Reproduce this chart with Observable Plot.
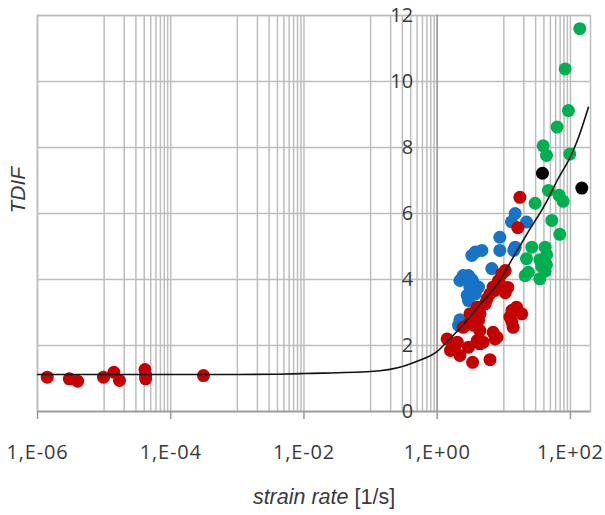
<!DOCTYPE html>
<html>
<head>
<meta charset="utf-8">
<script src="https://cdn.jsdelivr.net/npm/d3@7"></script>
<script src="https://cdn.jsdelivr.net/npm/@observablehq/plot@0.6"></script>
<style>
  html, body { margin: 0; padding: 0; background: #fff; }
  #chart svg { display: block; }
</style>
</head>
<body>
<div id="chart"></div>
<script>
// Strain-rate points [strain rate (1/s), TDIF]
const quasiStatic = [
  [1.4e-6, 1.04], [3.0e-6, 0.99], [4.0e-6, 0.92], [9.8e-6, 1.04], [1.4e-5, 1.19],
  [1.7e-5, 0.94], [4.1e-5, 1.27], [4.2e-5, 1.10], [4.2e-5, 0.99], [3.1e-4, 1.09]
];
const redPoints = [
  [1.41, 2.2], [1.58, 1.85], [2.19, 1.7], [1.86, 2.0], [2.0, 2.1], [2.95, 1.95], [3.4, 1.49], [6.2, 1.57],
  [2.45, 2.55], [2.95, 2.65], [3.1, 2.96], [3.55, 2.61], [4.17, 2.76], [4.37, 2.45], [3.98, 2.15],
  [4.37, 2.05], [4.9, 2.1], [6.9, 2.4], [7.4, 2.2], [7.9, 2.25],
  [3.98, 3.16], [4.4, 2.96], [5.25, 3.26], [5.6, 3.41], [6.17, 3.56], [6.9, 3.77], [7.4, 3.67],
  [8.3, 3.97], [8.7, 3.87], [9.3, 4.17], [10.5, 4.27], [10.5, 3.6],
  [11.5, 3.76], [13.2, 3.06], [15.5, 3.16], [18.6, 2.96], [13.2, 2.71], [13.8, 2.55], [12.3, 2.86],
  [17.4, 6.49], [16.2, 5.57]
];
const bluePoints = [
  [2.09, 2.61], [2.19, 2.78],
  [2.19, 3.97], [2.45, 4.12], [2.95, 4.12], [3.31, 4.0], [3.09, 3.77], [4.17, 3.77],
  [2.82, 3.52], [3.72, 3.56], [2.95, 3.36], [3.5, 3.9],
  [6.6, 4.33], [3.72, 4.83], [4.68, 4.88], [3.31, 4.73],
  [8.71, 5.28], [8.71, 4.88], [14.8, 4.98], [14.1, 4.88],
  [14.8, 6.0], [13.0, 5.75], [21.9, 5.74]
];
const greenPoints = [
  [138, 11.6], [83.2, 10.38], [93.3, 9.12], [63.1, 8.62], [38.9, 8.05], [43.7, 7.76], [97.7, 7.8],
  [46.8, 6.7], [67.6, 6.55], [77.6, 6.37], [29.5, 6.31], [52.5, 5.79], [69.2, 5.37],
  [26.3, 4.98], [41.7, 4.98], [21.9, 4.63], [34.7, 4.6], [44.0, 4.75], [43.7, 4.45],
  [37.0, 4.4], [23.4, 4.22], [20.9, 4.12], [34.7, 4.02], [41.7, 4.25]
];
const blackPoints = [[38, 7.22], [148, 6.77]];

// Fitted TDIF curve [strain rate, TDIF]
const fitCurve = [
  [1e-6, 1.12], [1e-3, 1.12], [4e-3, 1.13], [1e-2, 1.15], [0.1, 1.21], [0.32, 1.38], [0.5, 1.52],
  [1, 1.82], [1.41, 2.12], [2.45, 2.63], [4.37, 3.24], [8.71, 3.97], [13.8, 4.67], [22.4, 5.39],
  [44.7, 6.39], [63.1, 7.0], [105, 7.81], [138, 8.41], [186, 9.22]
];

// Axes
const xTicks = [1e-6, 1e-4, 1e-2, 1, 1e2];
const xTickLabels = ["1,E-06", "1,E-04", "1,E-02", "1,E+00", "1,E+02"];
const yTicks = [0, 2, 4, 6, 8, 10, 12];
const decades = [-6, -5, -4, -3, -2, -1, 0, 1, 2];
const minorDecades = [-5, -3, -1, 1];
const minorSteps = [2, 3, 4, 5, 6, 7, 8, 9];
const xTitle = "strain rate [1/s]";

const gridX = [
  ...decades.map(k => 10 ** k),
  ...minorDecades.flatMap(k => minorSteps.map(m => m * 10 ** k))
];

const gridColor = "#bdbdbd";
const textColor = "#3a3a3a";
const tickFont = "'Open Sans', sans-serif";
const titleFont = "'Liberation Sans', Arial, sans-serif";

const chart = Plot.plot({
  width: 605,
  height: 515,
  marginTop: 15,
  marginRight: 15,
  marginBottom: 104,
  marginLeft: 37,
  style: { fontFamily: tickFont, background: "#fff" },
  x: { type: "log", domain: [1e-6, 200], axis: null },
  y: { domain: [0, 12], axis: null },
  marks: [
    Plot.ruleX(gridX, { x: d => d, stroke: gridColor, strokeWidth: 1.5 }),
    Plot.ruleY(yTicks, { y: d => d, stroke: gridColor, strokeWidth: 1.5 }),
    Plot.frame({ stroke: gridColor, strokeWidth: 1.5 }),
    Plot.ruleX([1], { x: d => d, stroke: "#9a9a9a", strokeWidth: 1.5 }),
    Plot.ruleY([0], { y: d => d, stroke: "#9a9a9a", strokeWidth: 1.5 }),
    Plot.ruleX(xTicks, { x: d => d, y1: 0, y2: 0, insetBottom: -8, stroke: "#9a9a9a", strokeWidth: 1.5 }),
    Plot.text(xTicks, {
      x: d => d, y: 0, dy: 41, text: (d, i) => xTickLabels[i],
      fontSize: 20, fill: textColor, lineAnchor: "middle"
    }),
    Plot.text(yTicks, {
      x: 1, y: d => d, dx: -24, text: d => String(d), textAnchor: "end",
      fontSize: 20, fill: textColor, lineAnchor: "middle"
    }),
    Plot.dot(bluePoints, { x: d => d[0], y: d => d[1], r: 6.5, fill: "#1673c6" }),
    Plot.dot(greenPoints, { x: d => d[0], y: d => d[1], r: 6.5, fill: "#00b050" }),
    Plot.dot(quasiStatic, { x: d => d[0], y: d => d[1], r: 6.5, fill: "#c40000" }),
    Plot.dot(redPoints, { x: d => d[0], y: d => d[1], r: 6.5, fill: "#c40000" }),
    Plot.dot(blackPoints, { x: d => d[0], y: d => d[1], r: 6.5, fill: "#000" }),
    Plot.line(fitCurve, { x: d => d[0], y: d => d[1], stroke: "#111", strokeWidth: 1.6, curve: "monotone-x" }),
    Plot.text(["TDIF"], {
      frameAnchor: "left", dx: -19, rotate: -90, text: d => d,
      fontFamily: titleFont, fontSize: 21, fontStyle: "italic", fill: textColor
    }),
    Plot.text([xTitle], {
      frameAnchor: "bottom", dx: 10, dy: 86, text: d => d,
      fontFamily: titleFont, fontSize: 21.5, fill: textColor, lineAnchor: "middle"
    })
  ]
});

// Wider spacing for the exponent tick labels; italic quantity name with upright unit
d3.select(chart).selectAll("text").each(function () {
  const t = this.textContent;
  if (xTickLabels.includes(t)) {
    this.setAttribute("letter-spacing", "0.8");
  } else if (t === xTitle) {
    const sel = d3.select(this).text("");
    sel.append("tspan").attr("font-style", "italic").text("strain rate");
    sel.append("tspan").text(" [1/s]");
  }
});

document.getElementById("chart").append(chart);
</script>
</body>
</html>
